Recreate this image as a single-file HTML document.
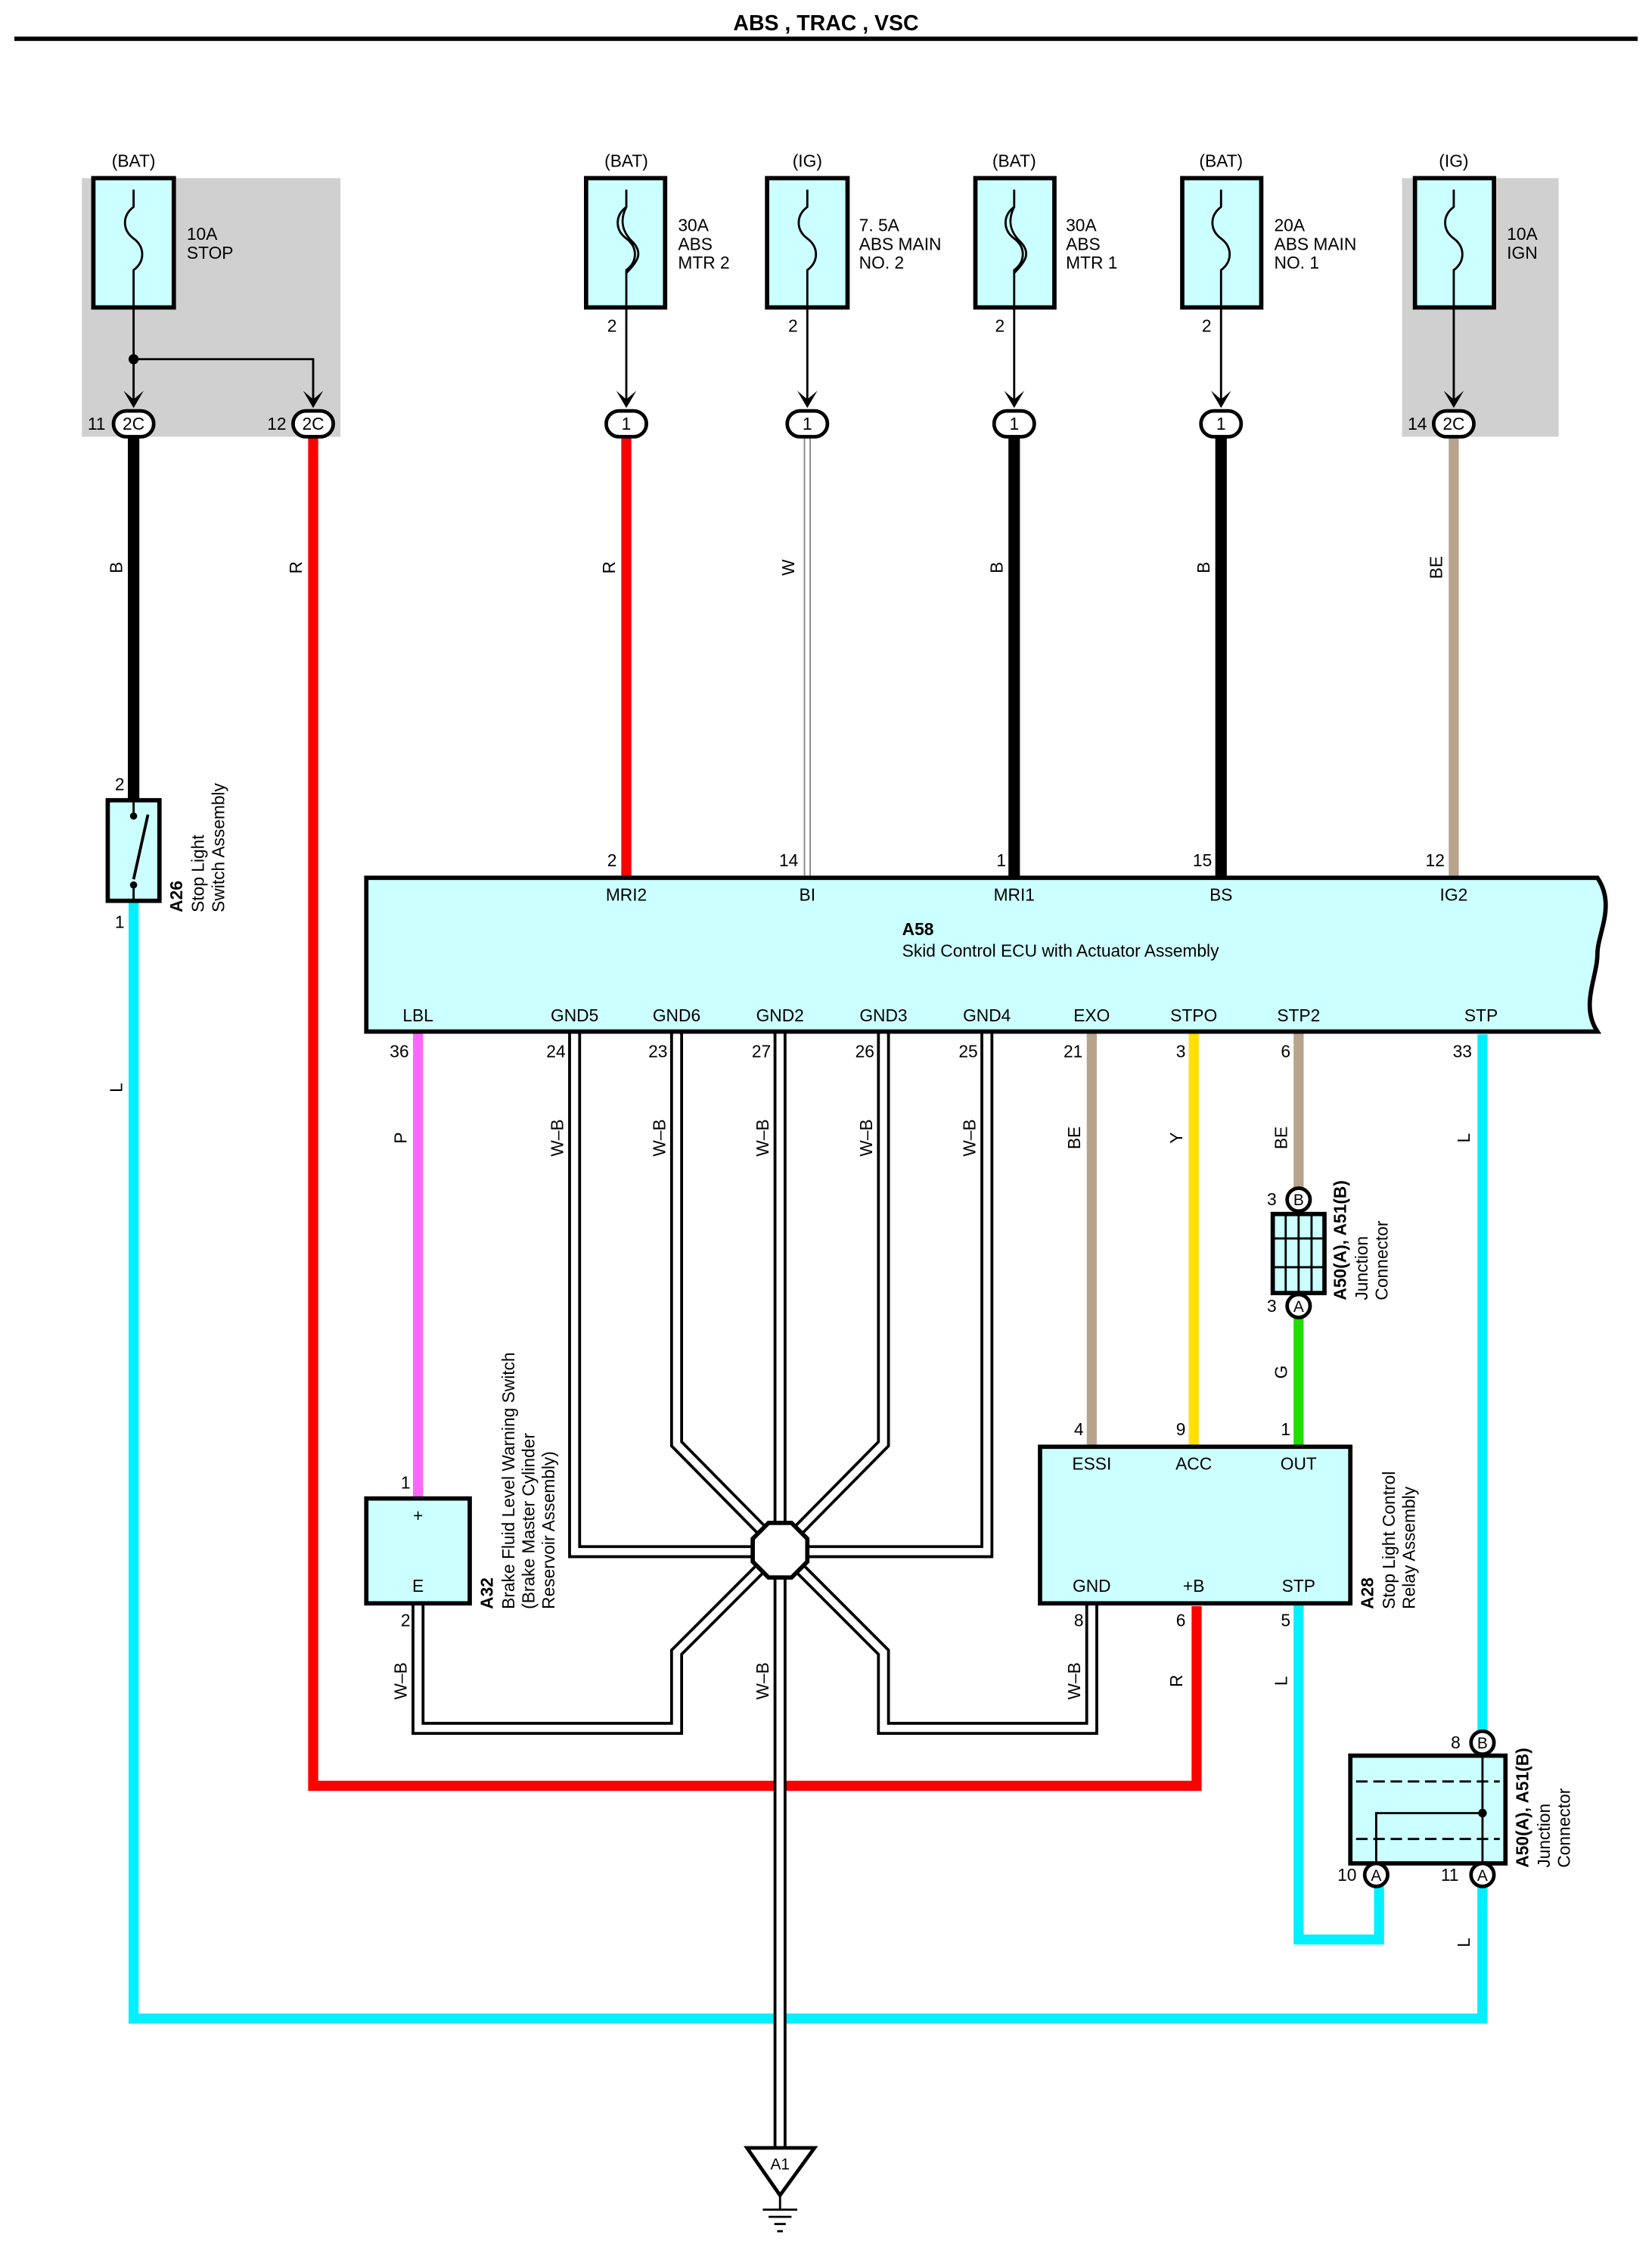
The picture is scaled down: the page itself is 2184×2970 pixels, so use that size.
<!DOCTYPE html>
<html><head><meta charset="utf-8"><style>
html,body{margin:0;padding:0;background:#fff}
svg{display:block}
text{font-family:"Liberation Sans",sans-serif;fill:#000}
</style></head><body>
<svg width="2184" height="2970" viewBox="0 0 1150 1564" preserveAspectRatio="none" xmlns="http://www.w3.org/2000/svg">
<rect width="1150" height="1564" fill="#fff"/>
<text x="575" y="21" font-size="15" font-weight="bold" text-anchor="middle">ABS , TRAC , VSC</text>
<line x1="10" y1="27" x2="1140" y2="27" stroke="#000" stroke-width="3"/>
<rect x="57" y="124" width="180" height="180" fill="#d0d0d0"/>
<rect x="976" y="124" width="109" height="180" fill="#d0d0d0"/>

<!-- wires -->
<g fill="none" stroke-linejoin="miter">
<polyline points="93,304 93,557" stroke="#000" stroke-width="8"/>
<polyline points="93,627 93,1405 1032,1405 1032,720" stroke="#00f0ff" stroke-width="7"/>
<polyline points="218,304 218,1243 833,1243 833,1118" stroke="#ff0000" stroke-width="7"/>
<line x1="436" y1="304" x2="436" y2="611" stroke="#ff0000" stroke-width="7"/>
<line x1="562" y1="304" x2="562" y2="611" stroke="#888" stroke-width="5"/>
<line x1="562" y1="304" x2="562" y2="611" stroke="#fff" stroke-width="3"/>
<line x1="706" y1="304" x2="706" y2="611" stroke="#000" stroke-width="8"/>
<line x1="850" y1="304" x2="850" y2="611" stroke="#000" stroke-width="8"/>
<line x1="1012" y1="304" x2="1012" y2="611" stroke="#b8a48c" stroke-width="7"/>
<line x1="291" y1="718" x2="291" y2="1043" stroke="#ff66ff" stroke-width="7"/>
<line x1="760" y1="718" x2="760" y2="1007" stroke="#b8a48c" stroke-width="7"/>
<line x1="831" y1="718" x2="831" y2="1007" stroke="#ffe000" stroke-width="7"/>
<line x1="904" y1="718" x2="904" y2="830" stroke="#b8a48c" stroke-width="7"/>
<line x1="904" y1="915" x2="904" y2="1007" stroke="#22dd00" stroke-width="7"/>
<polyline points="904,1116 904,1350 960,1350 960,1313" stroke="#00f0ff" stroke-width="7"/>
<line x1="1032" y1="1313" x2="1032" y2="1405" stroke="#00f0ff" stroke-width="7"/>
</g>

<!-- W-B double wires -->
<g fill="none" stroke-linejoin="miter">
<g stroke="#000" stroke-width="9">
<polyline points="400,718 400,1080 543,1080"/>
<polyline points="687,718 687,1080 543,1080"/>
<polyline points="471,718 471,1005 543,1078"/>
<polyline points="615,718 615,1005 543,1078"/>
<polyline points="543,718 543,1495"/>
<polyline points="543,1078 471,1150 471,1203 291,1203 291,1116"/>
<polyline points="543,1078 615,1150 615,1203 760,1203 760,1116"/>
</g>
<g stroke="#fff" stroke-width="5">
<polyline points="400,718 400,1080 543,1080"/>
<polyline points="687,718 687,1080 543,1080"/>
<polyline points="471,718 471,1005 543,1078"/>
<polyline points="615,718 615,1005 543,1078"/>
<polyline points="543,718 543,1495"/>
<polyline points="543,1078 471,1150 471,1203 291,1203 291,1116"/>
<polyline points="543,1078 615,1150 615,1203 760,1203 760,1116"/>
</g>
</g>
<polygon points="535,1060 551,1060 562,1071 562,1087 551,1098 535,1098 524,1087 524,1071" fill="#fff" stroke="#000" stroke-width="3"/>

<!-- fuses -->
<g stroke="#000" stroke-width="3">
<rect x="65" y="124" width="56" height="90" fill="#ccffff"/>
<rect x="408" y="124" width="55" height="90" fill="#ccffff"/>
<rect x="534" y="124" width="56" height="90" fill="#ccffff"/>
<rect x="679" y="124" width="55" height="90" fill="#ccffff"/>
<rect x="823" y="124" width="55" height="90" fill="#ccffff"/>
<rect x="985" y="124" width="55" height="90" fill="#ccffff"/>
</g>
<g fill="none" stroke="#000" stroke-width="1.5">
<path d="M93,132 V144 C85,150 85,160 93,166 S101,182 93,188 V214"/>
<path d="M562,132 V144 C554,150 554,160 562,166 S570,182 562,188 V214"/>
<path d="M850,132 V144 C842,150 842,160 850,166 S858,182 850,188 V214"/>
<path d="M1012,132 V144 C1004,150 1004,160 1012,166 S1020,182 1012,188 V214"/>
<path d="M436,132 V144 C428,150 428,160 436,166 S444,182 436,188 V214 M436,144 C432,152 432,160 440,168 S444,182 436,190"/>
<path d="M706,132 V144 C698,150 698,160 706,166 S714,182 706,188 V214 M706,144 C702,152 702,160 710,168 S714,182 706,190"/>
</g>
<g stroke="#000" stroke-width="1.5" fill="none">
<polyline points="93,214 93,282"/><polyline points="93,250 218,250 218,282"/>
<line x1="436" y1="214" x2="436" y2="282"/><line x1="562" y1="214" x2="562" y2="282"/>
<line x1="706" y1="214" x2="706" y2="282"/><line x1="850" y1="214" x2="850" y2="282"/>
<line x1="1012" y1="214" x2="1012" y2="282"/>
</g>
<circle cx="93" cy="250" r="3.5" fill="#000"/>
<g fill="#000">
<path d="M86,272 L93,284 L100,272 L93,278Z"/><path d="M211,272 L218,284 L225,272 L218,278Z"/>
<path d="M429,272 L436,284 L443,272 L436,278Z"/><path d="M555,272 L562,284 L569,272 L562,278Z"/>
<path d="M699,272 L706,284 L713,272 L706,278Z"/><path d="M843,272 L850,284 L857,272 L850,278Z"/>
<path d="M1005,272 L1012,284 L1019,272 L1012,278Z"/>
</g>
<g stroke="#000" stroke-width="2.5" fill="#fff">
<rect x="79" y="286" width="28" height="18" rx="9"/><rect x="204" y="286" width="28" height="18" rx="9"/>
<rect x="422" y="286" width="28" height="18" rx="9"/><rect x="548" y="286" width="28" height="18" rx="9"/>
<rect x="692" y="286" width="28" height="18" rx="9"/><rect x="836" y="286" width="28" height="18" rx="9"/>
<rect x="998" y="286" width="28" height="18" rx="9"/>
</g>
<g font-size="12" text-anchor="middle">
<text x="93" y="299">2C</text><text x="218" y="299">2C</text><text x="436" y="299">1</text><text x="562" y="299">1</text>
<text x="706" y="299">1</text><text x="850" y="299">1</text><text x="1012" y="299">2C</text>
<text x="93" y="116">(BAT)</text><text x="436" y="116">(BAT)</text><text x="562" y="116">(IG)</text>
<text x="706" y="116">(BAT)</text><text x="850" y="116">(BAT)</text><text x="1012" y="116">(IG)</text>
<text x="426" y="231">2</text><text x="552" y="231">2</text><text x="696" y="231">2</text><text x="840" y="231">2</text>
</g>
<g font-size="12">
<text x="61" y="299">11</text><text x="186" y="299">12</text><text x="980" y="299">14</text>
<text x="130" y="167">10A</text><text x="130" y="180">STOP</text>
<text x="472" y="161">30A</text><text x="472" y="174">ABS</text><text x="472" y="187">MTR 2</text>
<text x="598" y="161">7. 5A</text><text x="598" y="174">ABS MAIN</text><text x="598" y="187">NO. 2</text>
<text x="742" y="161">30A</text><text x="742" y="174">ABS</text><text x="742" y="187">MTR 1</text>
<text x="887" y="161">20A</text><text x="887" y="174">ABS MAIN</text><text x="887" y="187">NO. 1</text>
<text x="1049" y="167">10A</text><text x="1049" y="180">IGN</text>
</g>

<!-- wire labels vertical -->
<g font-size="12" text-anchor="middle">
<text transform="translate(85,395) rotate(-90)">B</text>
<text transform="translate(210,395) rotate(-90)">R</text>
<text transform="translate(428,395) rotate(-90)">R</text>
<text transform="translate(553,395) rotate(-90)">W</text>
<text transform="translate(698,395) rotate(-90)">B</text>
<text transform="translate(842,395) rotate(-90)">B</text>
<text transform="translate(1004,395) rotate(-90)">BE</text>
<text transform="translate(85,757) rotate(-90)">L</text>
<text transform="translate(283,792) rotate(-90)">P</text>
<text transform="translate(392,792) rotate(-90)">W–B</text>
<text transform="translate(463,792) rotate(-90)">W–B</text>
<text transform="translate(535,792) rotate(-90)">W–B</text>
<text transform="translate(607,792) rotate(-90)">W–B</text>
<text transform="translate(679,792) rotate(-90)">W–B</text>
<text transform="translate(752,792) rotate(-90)">BE</text>
<text transform="translate(823,792) rotate(-90)">Y</text>
<text transform="translate(896,792) rotate(-90)">BE</text>
<text transform="translate(1023,792) rotate(-90)">L</text>
<text transform="translate(896,955) rotate(-90)">G</text>
<text transform="translate(283,1170) rotate(-90)">W–B</text>
<text transform="translate(535,1170) rotate(-90)">W–B</text>
<text transform="translate(752,1170) rotate(-90)">W–B</text>
<text transform="translate(823,1170) rotate(-90)">R</text>
<text transform="translate(896,1170) rotate(-90)">L</text>
<text transform="translate(1023,1352) rotate(-90)">L</text>
</g>

<!-- A26 switch -->
<rect x="75" y="557" width="36" height="70" fill="#ccffff" stroke="#000" stroke-width="3"/>
<line x1="93" y1="557" x2="93" y2="568" stroke="#000" stroke-width="1.5"/>
<line x1="93" y1="616" x2="93" y2="627" stroke="#000" stroke-width="1.5"/>
<line x1="93" y1="612" x2="103" y2="567" stroke="#000" stroke-width="2"/>
<circle cx="93" cy="568" r="2.5" fill="#000"/><circle cx="93" cy="616" r="2.5" fill="#000"/>
<text x="80" y="550" font-size="12">2</text><text x="80" y="646" font-size="12">1</text>
<g font-size="12">
<text transform="translate(127,635) rotate(-90)"><tspan font-weight="bold">A26</tspan></text>
<text transform="translate(142,635) rotate(-90)">Stop Light</text>
<text transform="translate(156,635) rotate(-90)">Switch Assembly</text>
</g>

<!-- ECU -->
<path d="M255,611 H1112 C1125,630 1112,650 1112,664 C1112,680 1100,700 1112,718 H255 Z" fill="#ccffff" stroke="#000" stroke-width="3"/>
<g font-size="12" text-anchor="middle">
<text x="436" y="627">MRI2</text><text x="562" y="627">BI</text><text x="706" y="627">MRI1</text><text x="850" y="627">BS</text><text x="1012" y="627">IG2</text>
<text x="291" y="711">LBL</text><text x="400" y="711">GND5</text><text x="471" y="711">GND6</text><text x="543" y="711">GND2</text>
<text x="615" y="711">GND3</text><text x="687" y="711">GND4</text><text x="760" y="711">EXO</text><text x="831" y="711">STPO</text>
<text x="904" y="711">STP2</text><text x="1031" y="711">STP</text>
<text x="426" y="603">2</text><text x="549" y="603">14</text><text x="697" y="603">1</text><text x="837" y="603">15</text><text x="999" y="603">12</text>
<text x="278" y="736">36</text><text x="387" y="736">24</text><text x="458" y="736">23</text><text x="530" y="736">27</text>
<text x="602" y="736">26</text><text x="674" y="736">25</text><text x="747" y="736">21</text><text x="822" y="736">3</text>
<text x="895" y="736">6</text><text x="1018" y="736">33</text>
</g>
<text x="628" y="651" font-size="12" font-weight="bold">A58</text>
<text x="628" y="666" font-size="12">Skid Control ECU with Actuator Assembly</text>

<!-- A32 -->
<rect x="255" y="1043" width="72" height="73" fill="#ccffff" stroke="#000" stroke-width="3"/>
<text x="291" y="1059" font-size="12" text-anchor="middle">+</text>
<text x="291" y="1108" font-size="12" text-anchor="middle">E</text>
<text x="279" y="1036" font-size="12">1</text><text x="279" y="1132" font-size="12">2</text>
<g font-size="12">
<text transform="translate(343,1120) rotate(-90)"><tspan font-weight="bold">A32</tspan></text>
<text transform="translate(358,1120) rotate(-90)">Brake Fluid Level Warning Switch</text>
<text transform="translate(372,1120) rotate(-90)">(Brake Master Cylinder</text>
<text transform="translate(386,1120) rotate(-90)">Reservoir Assembly)</text>
</g>

<!-- A50 upper junction -->
<rect x="886" y="845" width="36" height="55" fill="#ccffff" stroke="#000" stroke-width="3"/>
<g stroke="#000" stroke-width="1.5"><line x1="895" y1="845" x2="895" y2="900"/><line x1="913" y1="845" x2="913" y2="900"/>
<line x1="886" y1="862" x2="922" y2="862"/><line x1="886" y1="882" x2="922" y2="882"/>
<line x1="904" y1="843" x2="904" y2="901"/></g>
<circle cx="904" cy="835" r="8" fill="#fff" stroke="#000" stroke-width="2.5"/>
<circle cx="904" cy="909" r="8" fill="#fff" stroke="#000" stroke-width="2.5"/>
<text x="904" y="839" font-size="11" text-anchor="middle">B</text><text x="904" y="913" font-size="11" text-anchor="middle">A</text>
<text x="882" y="839" font-size="12">3</text><text x="882" y="913" font-size="12">3</text>
<g font-size="12">
<text transform="translate(937,905) rotate(-90)"><tspan font-weight="bold">A50(A), A51(B)</tspan></text>
<text transform="translate(952,905) rotate(-90)">Junction</text>
<text transform="translate(966,905) rotate(-90)">Connector</text>
</g>

<!-- A28 -->
<rect x="724" y="1007" width="216" height="109" fill="#ccffff" stroke="#000" stroke-width="3"/>
<g font-size="12" text-anchor="middle">
<text x="760" y="1023">ESSI</text><text x="831" y="1023">ACC</text><text x="904" y="1023">OUT</text>
<text x="760" y="1108">GND</text><text x="831" y="1108">+B</text><text x="904" y="1108">STP</text>
<text x="751" y="999">4</text><text x="822" y="999">9</text><text x="895" y="999">1</text>
<text x="751" y="1132">8</text><text x="822" y="1132">6</text><text x="895" y="1132">5</text>
</g>
<g font-size="12">
<text transform="translate(956,1120) rotate(-90)"><tspan font-weight="bold">A28</tspan></text>
<text transform="translate(971,1120) rotate(-90)">Stop Light Control</text>
<text transform="translate(985,1120) rotate(-90)">Relay Assembly</text>
</g>

<!-- lower junction -->
<rect x="940" y="1222" width="108" height="75" fill="#ccffff" stroke="#000" stroke-width="3"/>
<g stroke="#000" stroke-width="1.5" fill="none">
<line x1="944" y1="1240" x2="1044" y2="1240" stroke-dasharray="8,4"/>
<line x1="944" y1="1280" x2="1044" y2="1280" stroke-dasharray="8,4"/>
<line x1="1032" y1="1222" x2="1032" y2="1297"/>
<polyline points="958,1297 958,1262 1032,1262"/>
</g>
<circle cx="1032" cy="1262" r="3" fill="#000"/>
<circle cx="1032" cy="1213" r="8" fill="#fff" stroke="#000" stroke-width="2.5"/>
<circle cx="958" cy="1305" r="8" fill="#fff" stroke="#000" stroke-width="2.5"/>
<circle cx="1032" cy="1305" r="8" fill="#fff" stroke="#000" stroke-width="2.5"/>
<text x="1032" y="1217" font-size="11" text-anchor="middle">B</text>
<text x="958" y="1309" font-size="11" text-anchor="middle">A</text><text x="1032" y="1309" font-size="11" text-anchor="middle">A</text>
<text x="1010" y="1217" font-size="12">8</text><text x="931" y="1309" font-size="12">10</text><text x="1003" y="1309" font-size="12">11</text>
<g font-size="12">
<text transform="translate(1064,1300) rotate(-90)"><tspan font-weight="bold">A50(A), A51(B)</tspan></text>
<text transform="translate(1079,1300) rotate(-90)">Junction</text>
<text transform="translate(1093,1300) rotate(-90)">Connector</text>
</g>

<!-- ground -->
<polygon points="520,1495 567,1495 543,1528" fill="#fff" stroke="#000" stroke-width="2.5"/>
<text x="543" y="1510" font-size="11" text-anchor="middle">A1</text>
<g stroke="#000" stroke-width="1.5">
<line x1="543" y1="1528" x2="543" y2="1538"/>
<line x1="531" y1="1538" x2="555" y2="1538"/><line x1="535" y1="1543" x2="551" y2="1543"/>
<line x1="539" y1="1548" x2="547" y2="1548"/><line x1="541" y1="1553" x2="545" y2="1553"/>
</g>
</svg>
</body></html>
